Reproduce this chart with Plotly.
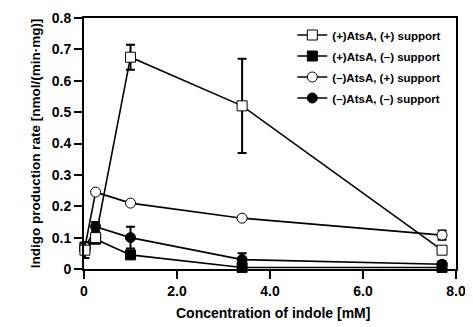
import plotly.graph_objects as go

conc = [0.02, 0.25, 1.0, 3.4, 7.7]

names = ["(+)AtsA, (+) support", "(+)AtsA, (\u2013) support",
         "(\u2013)AtsA, (+) support", "(\u2013)AtsA, (\u2013) support"]

open_sq = [0.06, 0.10, 0.675, 0.52, 0.06]
open_sq_err = [0.025, 0.01, 0.04, 0.15, 0.01]

filled_sq = [0.07, 0.095, 0.045, 0.005, 0.005]
filled_sq_err = [0.005, 0.005, 0.008, 0.005, 0.005]

open_circ = [0.07, 0.245, 0.21, 0.162, 0.108]
open_circ_err = [0.005, 0.005, 0.005, 0.005, 0.015]

filled_circ = [0.065, 0.135, 0.10, 0.03, 0.015]
filled_circ_err = [0.01, 0.015, 0.035, 0.02, 0.01]

x_ticks = [0, 2, 4, 6, 8]
x_ticklabels = ["0", "2.0", "4.0", "6.0", "8.0"]
y_ticks = [0, 0.1, 0.2, 0.3, 0.4, 0.5, 0.6, 0.7, 0.8]
y_ticklabels = ["0", "0.1", "0.2", "0.3", "0.4", "0.5", "0.6", "0.7", "0.8"]

x_title = "Concentration of indole [mM]"
y_title = "Indigo production rate [nmol/(min\u00b7mg)]"

series = [
    (open_sq, open_sq_err, "square", "white", 10),
    (filled_sq, filled_sq_err, "square", "black", 10),
    (open_circ, open_circ_err, "circle", "white", 10),
    (filled_circ, filled_circ_err, "circle", "black", 10),
]

fig = go.Figure()
# draw in reverse so the open squares sit on top; keep legend order with legendrank
order = [1, 3, 2, 0]
for i in order:
    ys, errs, sym, fill, size = series[i]
    fig.add_trace(go.Scatter(
        x=conc, y=ys, name=names[i], mode="lines+markers",
        legendrank=i + 1, legendgroup=str(i), cliponaxis=False,
        line=dict(color="black", width=1.6),
        marker=dict(symbol=sym, size=size, color=fill,
                    line=dict(color="black", width=1)),
        error_y=dict(type="data", array=errs, visible=True,
                     color="black", thickness=2, width=4.5),
    ))

fam = "Liberation Sans, Arial"
tick_font = dict(family=fam, size=14, color="black", weight="bold")
title_font = dict(family=fam, size=14, color="black", weight="bold")

# page body has an 8px default margin; size the figure to fit inside the window
fig.update_layout(
    width=465, height=319,
    margin=dict(l=75.5, r=17, t=10, b=58, autoexpand=False),
    paper_bgcolor="white", plot_bgcolor="white",
    font=dict(family=fam, color="black"),
    showlegend=True,
    legend=dict(x=0.56, y=0.99, xanchor="left", yanchor="top",
                bgcolor="rgba(0,0,0,0)", borderwidth=0,
                font=dict(family=fam, size=11.5, color="black", weight="bold"),
                tracegroupgap=2, itemwidth=30, traceorder="grouped"),
    xaxis=dict(range=[0, 8], tickvals=x_ticks, ticktext=x_ticklabels,
               showgrid=False, zeroline=False, showline=True, linecolor="black",
               linewidth=2, mirror=True, ticks="outside", ticklen=8, tickwidth=2,
               tickcolor="black", tickfont=tick_font, automargin=False),
    yaxis=dict(range=[0, 0.8], tickvals=y_ticks, ticktext=y_ticklabels,
               showgrid=False, zeroline=False, showline=True, linecolor="black",
               linewidth=2, mirror=True, ticks="outside", ticklen=8, tickwidth=2,
               tickcolor="black", tickfont=tick_font, automargin=False,
               title=dict(text="\u00a0" * 8 + y_title, standoff=8,
                          font=dict(family=fam, size=13.5, color="black", weight="bold"))),
    annotations=[
        dict(text=x_title, xref="paper", yref="paper", x=0.509, y=-0.175,
             xanchor="center", yanchor="middle", showarrow=False, font=title_font),
    ],
)

fig.write_html("out.html")
